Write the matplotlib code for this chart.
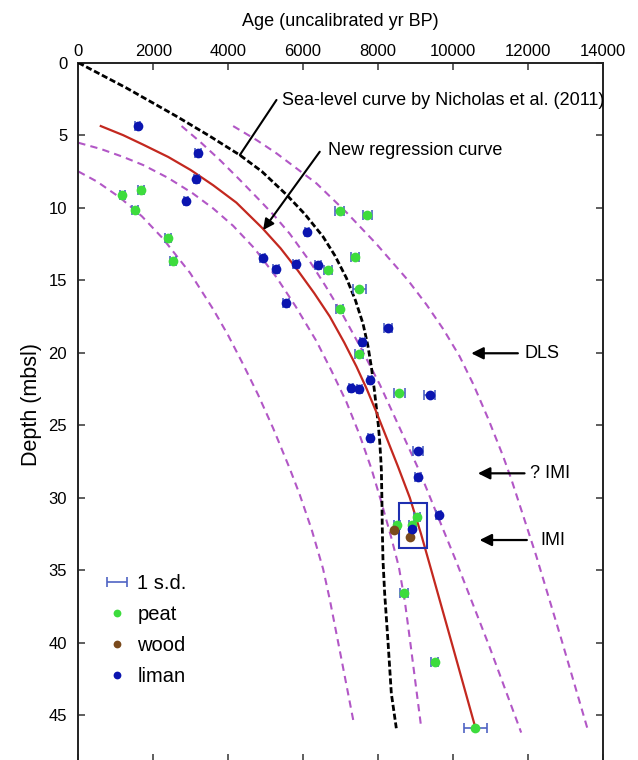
import numpy as np
import matplotlib.pyplot as plt
from matplotlib.patches import Rectangle

plt.rcParams['font.family'] = ['Liberation Sans', 'DejaVu Sans']

# dated samples: age (uncal yr BP), depth (m bsl), 1 s.d.
peat_age = [1180, 1680, 1520, 2390, 2540, 6980, 7720, 7390, 6670, 7500, 6980,
            7500, 8575, 9045, 8910, 8505, 8690, 9515, 10600]
peat_depth = [9.15, 8.75, 10.15, 12.1, 13.7, 10.2, 10.5, 13.4, 14.3, 15.6, 17.0,
              20.07, 22.8, 31.3, 31.9, 31.9, 36.55, 41.3, 45.85]
peat_sd = [80, 80, 80, 80, 80, 120, 120, 100, 100, 170, 100,
           100, 150, 80, 80, 80, 100, 100, 300]

wood_age = [8430, 8865]
wood_depth = [32.25, 32.7]
wood_sd = [0, 0]

liman_age = [1590, 3190, 3150, 2885, 6100, 4925, 5290, 5800, 6400, 5545, 8265,
             7585, 7790, 7285, 7505, 9380, 7800, 9065, 9080, 9620, 8900]
liman_depth = [4.4, 6.24, 8.05, 9.53, 11.7, 13.5, 14.23, 13.85, 13.96, 16.55, 18.33,
               19.25, 21.85, 22.43, 22.5, 22.95, 25.85, 26.77, 28.6, 31.2, 32.15]
liman_sd = [70, 80, 60, 50, 60, 70, 80, 80, 90, 70, 100,
            60, 60, 60, 60, 150, 70, 130, 80, 60, 60]

# Nicholas et al. (2011) sea-level curve
nich_age = [0, 1290, 2624, 3500, 4312, 4900, 5557, 6050, 6534, 6850, 7158, 7400,
            7601, 7730, 7825, 7900, 7958, 8010, 8046, 8075, 8091, 8105, 8115,
            8134, 8179, 8270, 8357, 8490]
nich_depth = [0, 1.75, 3.7, 5.05, 6.37, 7.5, 9.1, 10.45, 12.0, 13.3, 14.85, 16.4,
              18.0, 19.5, 21.0, 22.5, 23.8, 25.0, 26.1, 27.3, 28.1, 30.0, 32.0,
              34.3, 36.6, 40.0, 43.5, 45.9]

# new regression curve
reg_age = [600, 1200, 1730, 2400, 3000, 3600, 4220, 4910, 5400, 5824, 6300, 6713,
           7100, 7425, 7700, 7958, 8250, 8534, 8850, 9150, 9424, 10000, 10600]
reg_depth = [4.37, 5.0, 5.65, 6.5, 7.4, 8.45, 9.65, 11.4, 12.8, 14.2, 15.9, 17.5,
             19.3, 20.95, 22.5, 24.1, 26.0, 27.85, 30.0, 32.5, 35.0, 40.3, 45.85]

# confidence / prediction bands
band_a_age = [0, 500, 1112, 1700, 2250, 2984, 3600, 4000, 4400, 4800, 5200, 5646,
              5913, 6230, 6534, 6712, 7030, 7352]
band_a_depth = [7.5, 8.2, 9.3, 10.6, 12.1, 14.5, 17.0, 18.8, 20.8, 22.9, 25.2, 28.0,
                29.8, 32.2, 34.9, 37.0, 41.2, 45.5]

band_b_age = [0, 600, 1200, 1734, 2400, 3050, 3600, 4134, 4700, 5291, 5800, 6357,
              6750, 7158, 7500, 7825, 8090, 8350, 8560, 8720, 8864, 9157]
band_b_depth = [5.52, 5.95, 6.5, 7.06, 7.95, 9.0, 10.05, 11.25, 12.8, 14.8, 16.8, 19.2,
                21.2, 23.4, 25.6, 28.0, 30.3, 32.7, 34.8, 37.2, 40.0, 45.9]

band_c_age = [2757, 3250, 3779, 4300, 4846, 5250, 5646, 6179, 6600, 7020, 7550, 8050,
              8600, 9112, 9600, 10090, 10980, 11824]
band_c_depth = [4.37, 5.45, 6.71, 8.05, 9.5, 10.6, 11.8, 13.7, 15.4, 17.2, 19.7, 22.2,
                25.3, 28.2, 31.3, 34.4, 40.3, 46.2]

band_d_age = [4134, 4757, 5291, 6357, 7150, 7958, 8800, 9300, 9750, 10179, 10550,
              10950, 11335, 11557, 12224, 12900, 13601]
band_d_depth = [4.37, 5.33, 6.25, 8.32, 10.3, 12.5, 15.0, 16.7, 18.4, 20.25, 22.2,
                24.6, 27.1, 28.7, 34.0, 39.8, 46.0]

# highlighted cluster
box_age = (8553, 9308)
box_depth = (30.39, 33.49)

fig = plt.figure(figsize=(6.38, 7.6), dpi=100)
ax = fig.add_axes([78.3 / 638, -1 / 760, 524.4 / 638, 698.3 / 760])

band_color = '#b257c6'
for a, d in [(band_a_age, band_a_depth), (band_b_age, band_b_depth),
             (band_c_age, band_c_depth), (band_d_age, band_d_depth)]:
    ax.plot(a, d, color=band_color, lw=1.5, dashes=(3.5, 2.5), zorder=2)

ax.plot(nich_age, nich_depth, color='black', lw=2.0, dashes=(2.2, 1.0), zorder=3)
ax.plot(reg_age, reg_depth, color='#c3281f', lw=1.6, zorder=3)

ax.add_patch(Rectangle((box_age[0], box_depth[0]), box_age[1] - box_age[0],
                       box_depth[1] - box_depth[0], fill=False,
                       edgecolor='#1f2fb0', lw=1.5, zorder=4))

err_color = '#4f63c4'
sd_handle = None
for a, d, s in [(peat_age, peat_depth, peat_sd), (liman_age, liman_depth, liman_sd),
                (wood_age, wood_depth, wood_sd)]:
    eb = ax.errorbar(a, d, xerr=s, fmt='none', ecolor=err_color, elinewidth=1.2,
                     capsize=3.5, capthick=1.2, zorder=5)
    if sd_handle is None:
        sd_handle = eb

pk = ax.plot(peat_age, peat_depth, 'o', color='#3ddc3d', ms=7, mec='none', zorder=6)[0]
wd = ax.plot(wood_age, wood_depth, 'o', color='#7a4a1c', ms=7, mec='none', zorder=6)[0]
lm = ax.plot(liman_age, liman_depth, 'o', color='#0b15b0', ms=7, mec='none', zorder=6)[0]

leg = ax.legend([sd_handle, pk, wd, lm], ['1 s.d.', 'peat', 'wood', 'liman'],
                loc='upper left', bbox_to_anchor=(0.055, 0.268), frameon=False,
                fontsize=14.5, handlelength=1.0, handletextpad=0.5, labelspacing=0.6,
                borderpad=0, borderaxespad=0, markerscale=0.8)

# annotations
ax.annotate('', xy=(4312, 6.37), xytext=(5291, 2.57),
            arrowprops=dict(arrowstyle='-', lw=1.5, color='black', shrinkA=0, shrinkB=0))
ax.text(5446, 2.58, 'Sea-level curve by Nicholas et al. (2011)', fontsize=13, va='center')

ax.annotate('', xy=(4934, 11.54), xytext=(6446, 6.14),
            arrowprops=dict(arrowstyle='-|>', mutation_scale=16, lw=1.5, color='black',
                            shrinkA=0, shrinkB=0))
ax.text(6659, 6.03, 'New regression curve', fontsize=13, va='center')

for tail, tip, y, tx, label in [(11735, 10491, 20.04, 11913, 'DLS'),
                                (11913, 10668, 28.32, 12046, '? IMI'),
                                (11975, 10713, 32.92, 12330, 'IMI')]:
    ax.annotate('', xy=(tip, y), xytext=(tail, y),
                arrowprops=dict(arrowstyle='-|>', mutation_scale=18, lw=1.6,
                                color='black', shrinkA=0, shrinkB=0))
    ax.text(tx, y, label, fontsize=13, va='center')

ax.set_xlim(0, 14000)
ax.set_ylim(48.16, 0)
ax.set_xticks(np.arange(0, 14001, 2000))
ax.set_yticks(np.arange(0, 46, 5))
ax.xaxis.tick_top()
ax.xaxis.set_label_position('top')
ax.tick_params(direction='in', top=True, bottom=True, left=True, right=True,
               labeltop=True, labelbottom=False, length=5, width=1.1,
               labelsize=12, color='#333333')
ax.tick_params(axis='x', pad=3)
ax.tick_params(axis='y', pad=8)
for sp in ax.spines.values():
    sp.set_linewidth(1.4)
    sp.set_color('#222222')

ax.set_xlabel('Age (uncalibrated yr BP)', fontsize=13)
ax.xaxis.label.set_va('center')
ax.xaxis.set_label_coords(0.5, 1 + (62.7 - 21.7) / 698.3)
ax.set_ylabel('Depth (mbsl)', fontsize=15.5)
ax.yaxis.label.set_va('center')
ax.yaxis.set_label_coords(-0.09, (761 - 405) / 698.3)

fig.savefig('out.png', dpi=100)
